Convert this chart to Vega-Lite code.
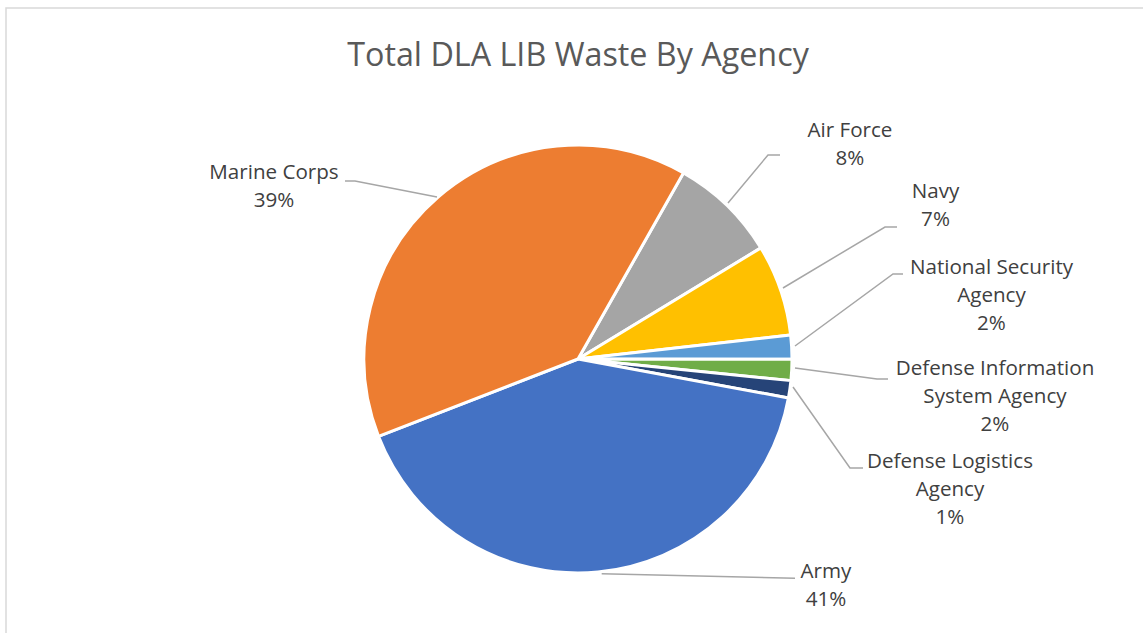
{
  "$schema": "https://vega.github.io/schema/vega-lite/v6.json",
  "width": 1144,
  "height": 702,
  "autosize": {"type": "none"},
  "padding": {"left": 6, "top": 8, "right": 0, "bottom": 0},
  "background": "white",
  "config": {"view": {"stroke": "#d9d9d9", "strokeWidth": 1.5}},
  "title": {
    "text": "Total DLA LIB Waste By Agency",
    "font": "Open Sans",
    "fontSize": 32.3,
    "fontWeight": "normal",
    "color": "#595959",
    "anchor": "middle",
    "frame": "group",
    "baseline": "alphabetic",
    "offset": -90
  },
  "datasets": {
    "waste": [
      {"agency": "Air Force", "share": 0.081, "rank": 1},
      {"agency": "Navy", "share": 0.069, "rank": 2},
      {"agency": "National Security Agency", "share": 0.018, "rank": 3},
      {"agency": "Defense Information System Agency", "share": 0.016, "rank": 4},
      {"agency": "Defense Logistics Agency", "share": 0.013, "rank": 5},
      {"agency": "Army", "share": 0.412, "rank": 6},
      {"agency": "Marine Corps", "share": 0.391, "rank": 7}
    ],
    "labels": [
      {"agency": "Air Force", "label": "Air Force\n8%", "lx": 1.2710, "ly": 1.0654},
      {"agency": "Navy", "label": "Navy\n7%", "lx": 1.6706, "ly": 0.7804},
      {"agency": "National Security Agency", "label": "National Security\nAgency\n2%", "lx": 1.9322, "ly": 0.4252},
      {"agency": "Defense Information System Agency", "label": "Defense Information\nSystem Agency\n2%", "lx": 1.9486, "ly": -0.0467},
      {"agency": "Defense Logistics Agency", "label": "Defense Logistics\nAgency\n1%", "lx": 1.7383, "ly": -0.4813},
      {"agency": "Army", "label": "Army\n41%", "lx": 1.1589, "ly": -0.9953},
      {"agency": "Marine Corps", "label": "Marine Corps\n39%", "lx": -1.4206, "ly": 0.8692}
    ],
    "leaders": [
      {"agency": "Air Force", "pt": 1, "lx": 0.7009, "ly": 0.7290},
      {"agency": "Air Force", "pt": 2, "lx": 0.8879, "ly": 0.9533},
      {"agency": "Air Force", "pt": 3, "lx": 0.9439, "ly": 0.9533},
      {"agency": "Navy", "pt": 1, "lx": 0.9579, "ly": 0.3318},
      {"agency": "Navy", "pt": 2, "lx": 1.4346, "ly": 0.6168},
      {"agency": "Navy", "pt": 3, "lx": 1.4907, "ly": 0.6168},
      {"agency": "National Security Agency", "pt": 1, "lx": 1.0140, "ly": 0.0607},
      {"agency": "National Security Agency", "pt": 2, "lx": 1.4720, "ly": 0.3972},
      {"agency": "National Security Agency", "pt": 3, "lx": 1.5187, "ly": 0.3972},
      {"agency": "Defense Information System Agency", "pt": 1, "lx": 1.0140, "ly": -0.0421},
      {"agency": "Defense Information System Agency", "pt": 2, "lx": 1.3972, "ly": -0.0935},
      {"agency": "Defense Information System Agency", "pt": 3, "lx": 1.4486, "ly": -0.0935},
      {"agency": "Defense Logistics Agency", "pt": 1, "lx": 1.0047, "ly": -0.1308},
      {"agency": "Defense Logistics Agency", "pt": 2, "lx": 1.2710, "ly": -0.5093},
      {"agency": "Defense Logistics Agency", "pt": 3, "lx": 1.3318, "ly": -0.5093},
      {"agency": "Army", "pt": 1, "lx": 0.1107, "ly": -1.0033},
      {"agency": "Army", "pt": 2, "lx": 1.0140, "ly": -1.0245},
      {"agency": "Marine Corps", "pt": 1, "lx": -1.0888, "ly": 0.8318},
      {"agency": "Marine Corps", "pt": 2, "lx": -1.0421, "ly": 0.8318},
      {"agency": "Marine Corps", "pt": 3, "lx": -0.6589, "ly": 0.7570}
    ]
  },
  "layer": [
    {
      "data": {"name": "waste"},
      "mark": {"type": "arc", "outerRadius": 214, "stroke": "white", "strokeWidth": 3},
      "encoding": {
        "theta": {"field": "share", "type": "quantitative", "stack": true, "scale": {"range": [0.5159, 6.7991]}},
        "color": {
          "field": "agency",
          "type": "nominal",
          "scale": {
            "domain": ["Air Force", "Navy", "National Security Agency", "Defense Information System Agency", "Defense Logistics Agency", "Army", "Marine Corps"],
            "range": ["#A5A5A5", "#FFC000", "#5B9BD5", "#70AD47", "#264478", "#4472C4", "#ED7D31"]
          },
          "legend": null
        },
        "order": {"field": "rank", "type": "quantitative"}
      }
    },
    {
      "data": {"name": "leaders"},
      "mark": {"type": "line", "color": "#a6a6a6", "strokeWidth": 1.5},
      "encoding": {
        "x": {"field": "lx", "type": "quantitative", "scale": {"domain": [-2.6729, 2.6729], "nice": false, "zero": false}, "axis": null},
        "y": {"field": "ly", "type": "quantitative", "scale": {"domain": [-1.6402, 1.6402], "nice": false, "zero": false}, "axis": null},
        "detail": {"field": "agency", "type": "nominal"},
        "order": {"field": "pt", "type": "quantitative"}
      }
    },
    {
      "data": {"name": "labels"},
      "mark": {"type": "text", "font": "Open Sans", "fontSize": 20.6, "color": "#404040", "lineBreak": "\n", "lineHeight": 28, "align": "center", "baseline": "middle"},
      "encoding": {
        "x": {"field": "lx", "type": "quantitative", "scale": {"domain": [-2.6729, 2.6729], "nice": false, "zero": false}, "axis": null},
        "y": {"field": "ly", "type": "quantitative", "scale": {"domain": [-1.6402, 1.6402], "nice": false, "zero": false}, "axis": null},
        "text": {"field": "label", "type": "nominal"}
      }
    }
  ]
}
